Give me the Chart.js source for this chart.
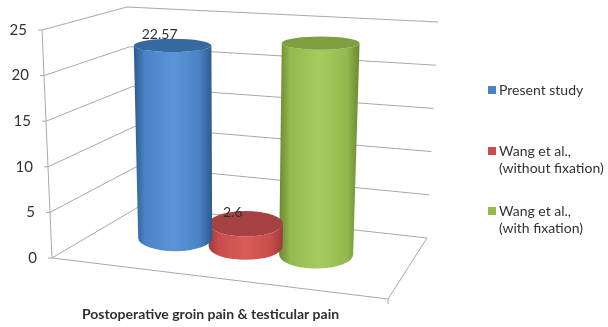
<!DOCTYPE html>
<html>
<head>
<meta charset="utf-8">
<title>Postoperative groin pain</title>
<script src="https://cdn.jsdelivr.net/npm/chart.js@4"></script>
<style>
  html, body { margin: 0; padding: 0; background: #fff; }
  canvas { display: block; }
</style>
</head>
<body>
<canvas id="painChart" width="608" height="327"></canvas>
<script>
const categories = ['Postoperative groin pain & testicular pain'];
const seriesNames = [['Present study'], ['Wang et al.,', '(without fixation)'], ['Wang et al.,', '(with fixation)']];
const seriesValues = [22.57, 2.6, 23.8];
const valueLabels = ['22.57', '2.6', null];
const yTicks = [0, 5, 10, 15, 20, 25];

const baseColors = ['#4a82c4', '#c94d4c', '#93b94f'];
const edgeColors = ['#2c5a8e', '#9c3a3a', '#688a32'];
const lightColors = ['#5c96d8', '#d95c5a', '#a6cb5d'];
const capColors = ['#35699f', '#a54343', '#7f9f40'];

const FONT = 'Lato, Carlito, sans-serif';
const GRID = '#a8a8a8';

// corners of the 3D box: [front-left, front-right, back-left, back-right]
const floorCorners = [[52, 258], [388, 299], [140, 206], [427, 238]];
const roofCorners = [[42, 30], [400, 49], [127, 7], [438, 22]];
const BAR_DEPTH = 0.55;   // bars stand slightly behind the middle of the floor
const BAR_SHIFT = -0.03;  // and slightly left of centre
const BAR_SCALE = 0.985;  // mid-depth bars come out a touch shorter than the front axis
const CAP_RATIO = 0.24;
const VANISH_X = 228;     // verticals fan out from this column
const FAN = 0.055;

function lerp(a, b, t) {
  return a + (b - a) * t;
}

function planePoint(c, u, d) {
  const x = lerp(lerp(c[0][0], c[1][0], u), lerp(c[2][0], c[3][0], u), d);
  const y = lerp(lerp(c[0][1], c[1][1], u), lerp(c[2][1], c[3][1], u), d);
  return [x, y];
}

// u across the floor, d into the picture, h up the wall (all 0..1)
function project(u, d, h) {
  const low = planePoint(floorCorners, u, d);
  const high = planePoint(roofCorners, u, d);
  return [lerp(low[0], high[0], h), lerp(low[1], high[1], h)];
}

function heightOf(chart, value) {
  const y = chart.scales.y;
  return (y.bottom - y.getPixelForValue(value)) / (y.bottom - y.top);
}

function segment(ctx, a, b) {
  ctx.beginPath();
  ctx.moveTo(a[0], a[1]);
  ctx.lineTo(b[0], b[1]);
  ctx.stroke();
}

function ellipseAt(u, halfU, h) {
  const footX = project(u, BAR_DEPTH, 0)[0];
  const footRx = (project(u + halfU, BAR_DEPTH, 0)[0] - project(u - halfU, BAR_DEPTH, 0)[0]) / 2;
  const ry = CAP_RATIO * Math.abs(project(u, 0, h)[1] - project(u, 1, h)[1]);
  return {
    x: footX + (footX - VANISH_X) * FAN * h,
    y: project(u, BAR_DEPTH, h)[1],
    rx: footRx * (1 + FAN * h),
    ry
  };
}

function drawCylinder(chart, index) {
  const ctx = chart.ctx;
  const area = chart.scales.x;
  const bar = chart.getDatasetMeta(index).data[0];
  const u = (bar.x - area.left) / area.width + BAR_SHIFT;
  const halfU = bar.width / area.width / 2;
  const low = ellipseAt(u, halfU, 0);
  const top = ellipseAt(u, halfU, heightOf(chart, seriesValues[index]) * BAR_SCALE);

  const left = Math.min(low.x - low.rx, top.x - top.rx);
  const right = Math.max(low.x + low.rx, top.x + top.rx);
  const g = ctx.createLinearGradient(left, 0, right, 0);
  g.addColorStop(0, edgeColors[index]);
  g.addColorStop(0.14, baseColors[index]);
  g.addColorStop(0.5, lightColors[index]);
  g.addColorStop(0.84, baseColors[index]);
  g.addColorStop(1, edgeColors[index]);

  ctx.save();
  ctx.fillStyle = g;
  ctx.beginPath();
  ctx.ellipse(low.x, low.y, low.rx, low.ry, 0, 0, Math.PI);
  ctx.lineTo(top.x - top.rx, top.y);
  ctx.ellipse(top.x, top.y, top.rx, top.ry, 0, Math.PI, 0, true);
  ctx.lineTo(low.x + low.rx, low.y);
  ctx.closePath();
  ctx.fill();

  ctx.fillStyle = capColors[index];
  ctx.beginPath();
  ctx.ellipse(top.x, top.y, top.rx, top.ry, 0, 0, Math.PI * 2);
  ctx.fill();

  if (valueLabels[index]) {
    ctx.fillStyle = '#303030';
    ctx.font = '14px ' + FONT;
    ctx.textAlign = 'center';
    ctx.textBaseline = 'middle';
    ctx.fillText(valueLabels[index], top.x - 13, top.y - 11);
  }
  ctx.restore();
}

// walls, floor edges and the slanted value axis
const boxPlugin = {
  id: 'box',
  beforeDatasetsDraw(chart) {
    const ctx = chart.ctx;
    const yScale = chart.scales.y;
    ctx.save();
    ctx.strokeStyle = GRID;
    ctx.lineWidth = 1;
    yScale.ticks.forEach(t => {
      const h = heightOf(chart, t.value);
      segment(ctx, project(0, 0, h), project(0, 1, h));
      segment(ctx, project(0, 1, h), project(1, 1, h));
      const p = project(0, 0, h);
      segment(ctx, [p[0] - 4, p[1]], p);
      ctx.fillStyle = '#333333';
      ctx.font = '15px ' + FONT;
      ctx.textAlign = 'right';
      ctx.textBaseline = 'middle';
      ctx.fillText(t.label, p[0] - 15, p[1]);
    });
    segment(ctx, project(0, 0, 0), project(0, 0, 1));
    segment(ctx, project(0, 0, 0), project(1, 0, 0));
    segment(ctx, project(1, 0, 0), project(1, 1, 0));
    const corner = project(1, 0, 0);
    segment(ctx, corner, [corner[0], corner[1] + 5]);
    ctx.restore();
  },
  beforeDatasetDraw(chart, args) {
    drawCylinder(chart, args.index);
    return false;
  }
};

// legend entries wrap over two lines and are unevenly spaced
const legendRows = [90, 151, 211];
const legendPlugin = {
  id: 'sideLegend',
  afterDraw(chart) {
    const ctx = chart.ctx;
    ctx.save();
    ctx.font = '14px ' + FONT;
    ctx.textAlign = 'left';
    ctx.textBaseline = 'middle';
    chart.data.datasets.forEach((ds, i) => {
      ctx.fillStyle = ds.backgroundColor;
      ctx.fillRect(488, legendRows[i] - 4, 8, 8);
      ctx.fillStyle = '#333333';
      seriesNames[i].forEach((line, n) => {
        ctx.fillText(line, 499, legendRows[i] + n * 17);
      });
    });
    ctx.restore();
  }
};

new Chart(document.getElementById('painChart'), {
  type: 'bar',
  data: {
    labels: categories,
    datasets: seriesValues.map((v, i) => ({
      label: seriesNames[i].join(' '),
      data: [v],
      backgroundColor: baseColors[i]
    }))
  },
  options: {
    responsive: false,
    animation: false,
    categoryPercentage: 0.684,
    barPercentage: 1.05,
    layout: { padding: { left: 42, right: 229, top: 30, bottom: 4 } },
    plugins: {
      legend: { display: false },
      tooltip: { enabled: false }
    },
    scales: {
      x: {
        grid: { display: false },
        border: { display: false },
        ticks: { display: false },
        title: {
          display: true,
          text: categories[0],
          color: '#303030',
          font: { family: FONT, size: 14, weight: 'bold' },
          padding: { top: 48, bottom: 0 }
        }
      },
      y: {
        display: false,
        min: Math.min(...yTicks),
        max: Math.max(...yTicks),
        ticks: { stepSize: 5 }
      }
    }
  },
  plugins: [boxPlugin, legendPlugin]
});
</script>
</body>
</html>
